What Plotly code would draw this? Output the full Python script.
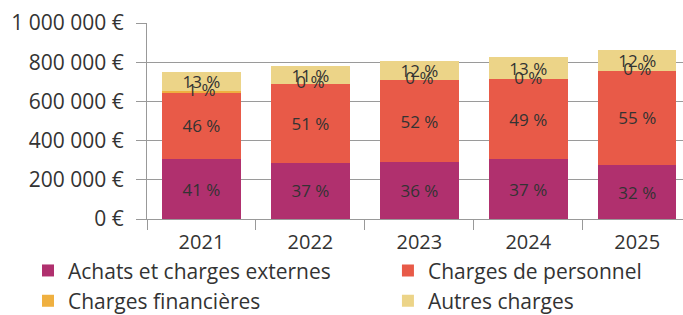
import plotly.graph_objects as go

years = ["2021", "2022", "2023", "2024", "2025"]
achats = [305000, 288000, 290000, 305000, 275000]
personnel = [340000, 400000, 419000, 408000, 482000]
financieres = [7000, 0, 0, 0, 0]
autres = [97000, 92000, 96000, 112000, 104000]

pct_achats = [41, 37, 36, 37, 32]
pct_personnel = [46, 51, 52, 49, 55]
pct_financieres = [1, 0, 0, 0, 0]
pct_autres = [13, 11, 12, 13, 12]

names = ["Achats et charges externes", "Charges de personnel",
         "Charges financières", "Autres charges"]
colors = ["#b0306e", "#e85a48", "#efb040", "#ecd488"]
legend_ids = ["legend", "legend2", "legend", "legend2"]

series = [achats, personnel, financieres, autres]
pcts = [pct_achats, pct_personnel, pct_financieres, pct_autres]

FONT = "Open Sans"
TXT = "#333333"

fig = go.Figure()
for i, (name, vals, pc, col, lg) in enumerate(zip(names, series, pcts, colors, legend_ids)):
    show_text = i != 2
    fig.add_trace(go.Bar(
        x=years, y=vals, name=name, marker=dict(color=col, line=dict(width=0)),
        text=[f"{p} %" for p in pc] if show_text else None,
        textposition="inside" if show_text else "none",
        insidetextanchor="middle", textangle=0,
        textfont=dict(family=FONT, size=17, color=TXT),
        legend=lg,
    ))

# labels of the (very thin) "Charges financières" segment
fin_mid = [a + p + f / 2 for a, p, f in zip(achats, personnel, financieres)]
fig.add_trace(go.Scatter(
    x=years, y=fin_mid, mode="text",
    text=[f"{p} %" for p in pct_financieres],
    textposition="middle center",
    textfont=dict(family=FONT, size=17, color=TXT),
    showlegend=False, hoverinfo="skip", cliponaxis=False,
))

leg_common = dict(
    orientation="v", xref="container", yref="paper",
    yanchor="bottom", y=-0.522, traceorder="normal", tracegroupgap=0,
    font=dict(family=FONT, size=21, color=TXT), itemwidth=30,
    bgcolor="rgba(0,0,0,0)",
)

fig.update_layout(
    barmode="stack", bargap=0.28,
    width=683, height=315,
    margin=dict(l=147, r=0, t=23, b=96, autoexpand=False),
    paper_bgcolor="white", plot_bgcolor="white",
    separators=", ",
    uniformtext=dict(mode="show", minsize=17),
    font=dict(family=FONT, color=TXT),
    showlegend=True,
    legend=dict(x=0.041, xanchor="left", **leg_common),
    legend2=dict(x=0.568, xanchor="left", **leg_common),
)
fig.update_xaxes(
    range=[-0.5, 4.42], tickson="boundaries", ticks="outside", ticklen=10,
    tickcolor="#999999", showline=True, linecolor="#999999", linewidth=1,
    tickfont=dict(family=FONT, size=20, color=TXT), automargin=False,
    ticklabelstandoff=5,
)
fig.update_yaxes(
    range=[0, 1000000], dtick=200000, tickformat=",.0f", ticksuffix=" €",
    ticks="outside", ticklen=10, tickcolor="#999999",
    showgrid=True, gridcolor="#9a9a9a", gridwidth=1,
    showline=True, linecolor="#999999", linewidth=1,
    zeroline=False, ticklabelstandoff=8, automargin=False,
    tickfont=dict(family=FONT, size=21, color=TXT),
)

fig.write_html("out.html", config={"displayModeBar": False},
               post_script="document.body.style.margin='0';")
